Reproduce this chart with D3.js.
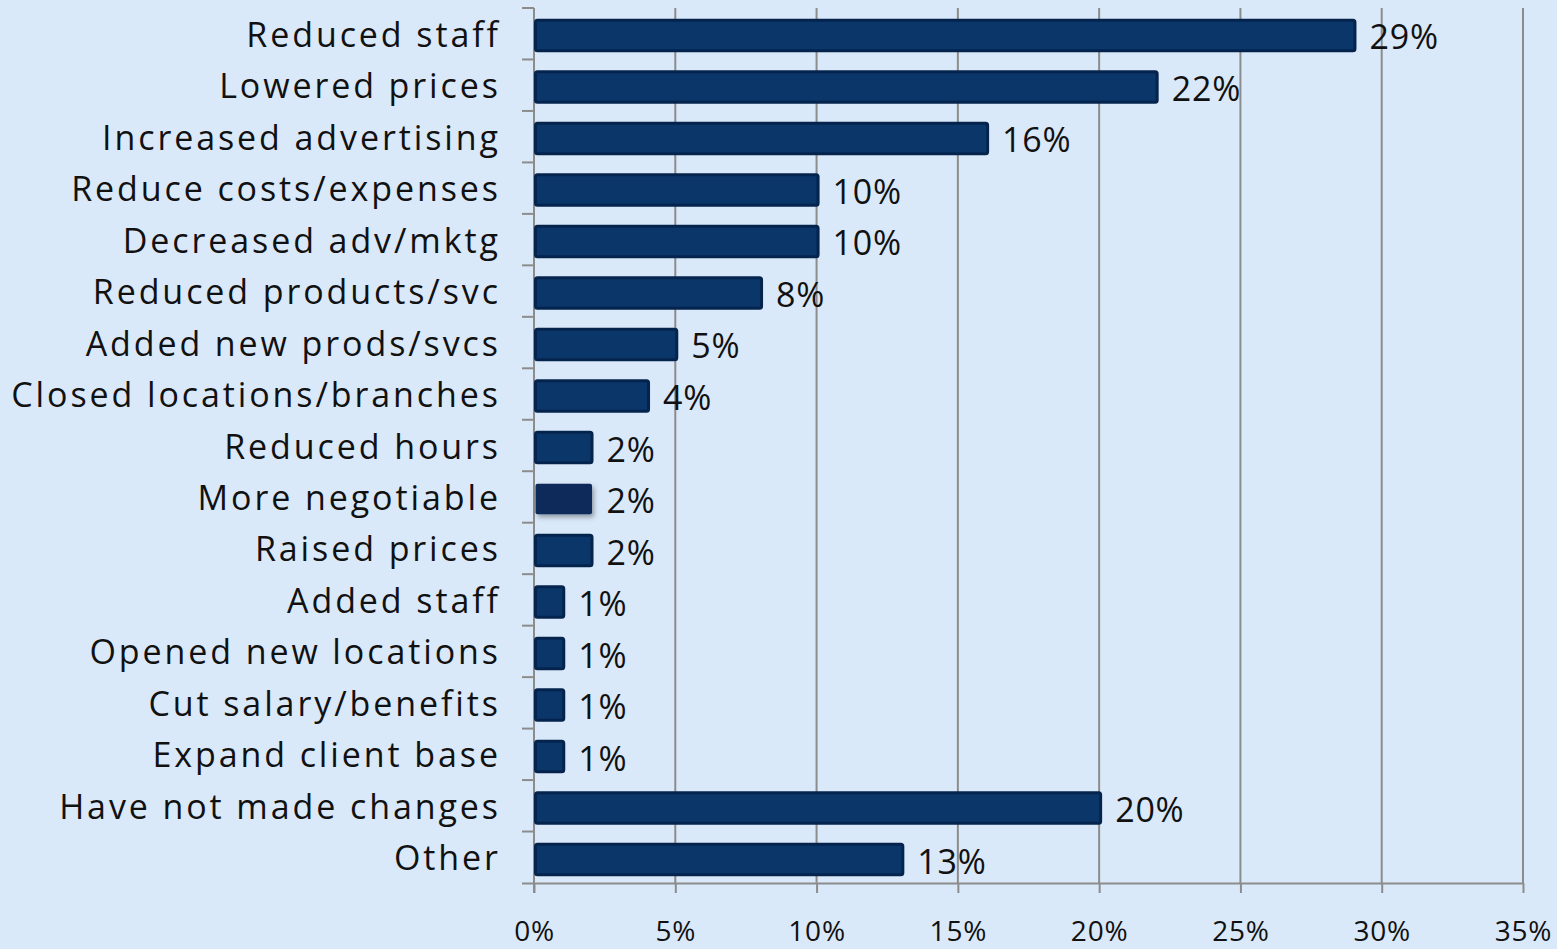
<!DOCTYPE html>
<html>
<head>
<meta charset="utf-8">
<script src="https://cdn.jsdelivr.net/npm/d3@7"></script>
<style>
  html, body { margin: 0; padding: 0; background: #dae9f9; }
  svg { display: block; }
  text { font-family: "Open Sans", "Lato", sans-serif; fill: #111; }
</style>
</head>
<body>
<svg id="chart" width="1557" height="949"></svg>
<script>
// Survey responses: changes businesses have made
const categories = [
  "Reduced staff", "Lowered prices", "Increased advertising", "Reduce costs/expenses",
  "Decreased adv/mktg", "Reduced products/svc", "Added new prods/svcs",
  "Closed locations/branches", "Reduced hours", "More negotiable", "Raised prices",
  "Added staff", "Opened new locations", "Cut salary/benefits", "Expand client base",
  "Have not made changes", "Other"
];
const values = [29, 22, 16, 10, 10, 8, 5, 4, 2, 2, 2, 1, 1, 1, 1, 20, 13];
const xTicks = [0, 5, 10, 15, 20, 25, 30, 35];
const highlighted = ["More negotiable"];

const svg = d3.select("#chart");
const margin = { top: 8, right: 34, bottom: 66, left: 534 };
const W = 1557, H = 949;
const labelSpacing = 2.9;

const x = d3.scaleLinear().domain([0, 35]).range([margin.left, W - margin.right]);
const band = d3.scaleBand().domain(categories).range([margin.top, H - margin.bottom]);
const y = d3.scaleBand().domain(categories).range([margin.top + 2, H - margin.bottom + 2]).paddingInner(0.41).paddingOuter(0.2);

const defs = svg.append("defs");
const f = defs.append("filter").attr("id", "shadow").attr("x", "-20%").attr("y", "-40%").attr("width", "150%").attr("height", "200%");
f.append("feDropShadow").attr("dx", 2).attr("dy", 3).attr("stdDeviation", 2.5).attr("flood-color", "#000").attr("flood-opacity", 0.35);

// vertical gridlines
svg.append("g").selectAll("line").data(xTicks.slice(1)).join("line")
  .attr("x1", d => x(d)).attr("x2", d => x(d))
  .attr("y1", margin.top).attr("y2", H - margin.bottom)
  .attr("stroke", "#8c8c8c").attr("stroke-width", 2);

// x axis
const xAxis = svg.append("g").attr("transform", `translate(0,${H - margin.bottom})`)
  .call(d3.axisBottom(x).tickValues(xTicks).tickFormat(d => d + "%").tickSize(10).tickPadding(28).tickSizeOuter(0));
xAxis.select(".domain").attr("stroke", "#8c8c8c").attr("stroke-width", 2)
  .attr("d", `M${x(0) - 12},0.5H${x(35)}`);
xAxis.selectAll(".tick line").attr("stroke", "#8c8c8c").attr("stroke-width", 2);
xAxis.selectAll("text").style("font-size", "28px").style("font-family", "'Open Sans', sans-serif")
  .style("letter-spacing", "0.8px").attr("fill", "#111");

// y axis with category tick marks at band boundaries
const yg = svg.append("g");
yg.append("line").attr("x1", x(0)).attr("x2", x(0))
  .attr("y1", margin.top).attr("y2", H - margin.bottom + 10)
  .attr("stroke", "#8c8c8c").attr("stroke-width", 2);
yg.selectAll("line.tk").data(categories).join("line").attr("class", "tk")
  .attr("x1", x(0) - 12).attr("x2", x(0))
  .attr("y1", d => band(d)).attr("y2", d => band(d))
  .attr("stroke", "#8c8c8c").attr("stroke-width", 2);
yg.selectAll("text").data(categories).join("text")
  .attr("x", x(0) - 36 + labelSpacing).attr("y", d => band(d) + band.bandwidth() / 2)
  .attr("text-anchor", "end").attr("dominant-baseline", "central")
  .style("font-size", "34px").style("letter-spacing", labelSpacing + "px").text(d => d);

// bars
const rows = categories.map((c, i) => ({ c, v: values[i] }));
const bars = svg.append("g").selectAll("g").data(rows).join("g");
bars.append("rect")
  .attr("x", x(0) + 1.5)
  .attr("y", d => y(d.c))
  .attr("width", d => x(d.v) - x(0))
  .attr("height", y.bandwidth())
  .attr("rx", 2)
  .attr("fill", d => highlighted.includes(d.c) ? "#07295a" : "#0a3669")
  .attr("stroke", d => highlighted.includes(d.c) ? "none" : "#05244d")
  .attr("stroke-width", 3)
  .attr("filter", d => highlighted.includes(d.c) ? "url(#shadow)" : null);

// value labels
bars.append("text")
  .attr("x", d => x(d.v) + 16)
  .attr("y", d => y(d.c) + y.bandwidth() / 2 + 1)
  .attr("dominant-baseline", "central")
  .style("font-size", "34px").style("letter-spacing", "0.8px")
  .text(d => d.v + "%");
</script>
</body>
</html>
